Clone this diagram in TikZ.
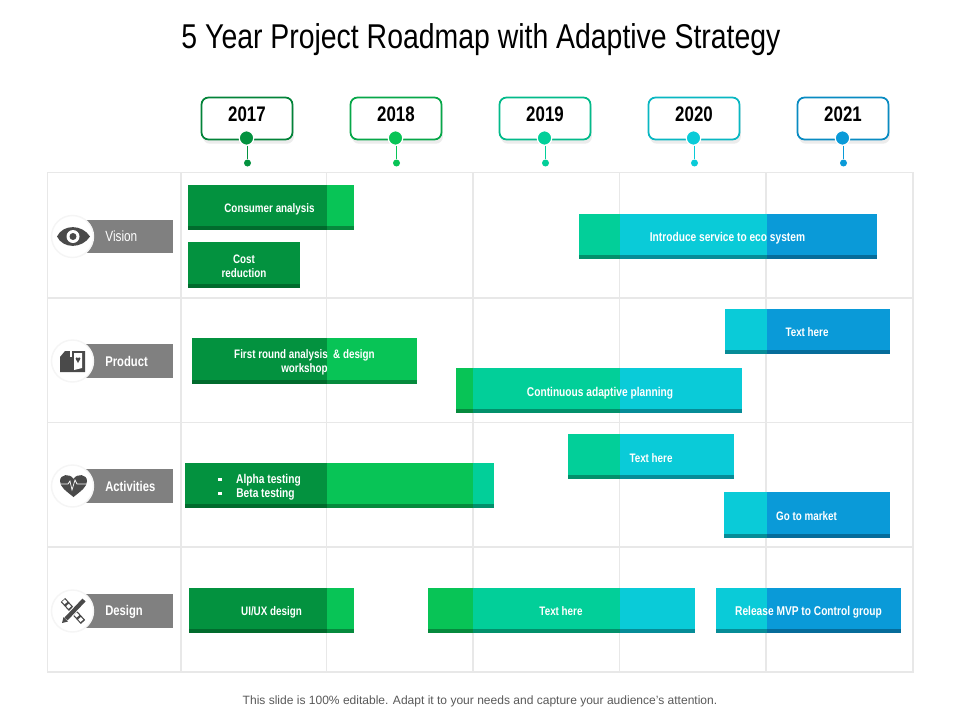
\documentclass[tikz,border=0pt]{standalone}
\usepackage{fontspec}
\setmainfont{Liberation Sans}
\newfontfamily\narrowfont[FakeStretch=0.8]{Liberation Sans}
\newfontfamily\titlefont[FakeStretch=0.825]{Liberation Sans}
\usetikzlibrary{positioning,shadows}

\definecolor{cA}{HTML}{03923F}
\definecolor{cB}{HTML}{08C456}
\definecolor{cC}{HTML}{02CF99}
\definecolor{cD}{HTML}{0ACBD8}
\definecolor{cE}{HTML}{0A9AD8}
\definecolor{dA}{HTML}{016B2D}
\definecolor{dB}{HTML}{068A3D}
\definecolor{dC}{HTML}{02906B}
\definecolor{dD}{HTML}{068C97}
\definecolor{dE}{HTML}{066C9A}
\definecolor{iconc}{HTML}{4A4A4A}
\definecolor{pillc}{HTML}{808080}
\definecolor{gridc}{HTML}{E8E8E8}

\tikzset{
  yearcard/.style={draw, line width=1pt, fill=white, rounded corners=4pt,
    minimum width=1.82cm, minimum height=0.84cm,
    drop shadow={opacity=0.15, shadow xshift=0.8pt, shadow yshift=-2.4pt}},
  yeartext/.style={font=\narrowfont\bfseries\fontsize{12}{13}\selectfont, text=black,
    text height=8pt, text depth=4.4pt},
  pindot/.style={circle, draw=white, line width=0.7pt, minimum size=0.29cm, inner sep=0pt},
  tipdot/.style={circle, minimum size=0.14cm, inner sep=0pt},
  pill/.style={fill=pillc, minimum width=1.76cm, minimum height=0.67cm, inner sep=0pt},
  pilltext/.style={font=\narrowfont\fontsize{8.4}{10}\selectfont, text=white, anchor=west, inner sep=0pt},
  pillbold/.style={pilltext, font=\narrowfont\bfseries\fontsize{8}{10}\selectfont},
  badge/.style={circle, fill=white, draw=black!4, line width=0.8pt, minimum size=0.84cm, inner sep=0pt},
  bartext/.style={font=\narrowfont\bfseries\fontsize{7}{8}\selectfont, text=white, align=center, inner sep=0pt},
  barwide/.style={bartext, font=\narrowfont\bfseries\fontsize{7.25}{8}\selectfont},
}

% one coloured piece of a bar: left, right, top, fill, strip
\newcommand{\barpiece}[5]{
  \fill[#4] (#1,#3) rectangle (#2,#3+45.5);
  \fill[#5] (#1,#3+41.5) rectangle (#2,#3+45.5);
}

\begin{document}
\begin{tikzpicture}[x=0.02cm, y=-0.02cm]
\useasboundingbox (0,0) rectangle (960,720);
\fill[white] (0,0) rectangle (960,720);

% Title
\node[font=\titlefont\fontsize{19.6}{22}\selectfont] (title) at (481,40) {5 Year Project Roadmap with Adaptive Strategy};

% Grid
\draw[gridc, line width=0.8pt] (47.5,172.5) rectangle (913,672);
\draw[gridc, line width=0.8pt] (47.5,298) -- (913,298);
\draw[gridc, line width=0.8pt] (47.5,422.5) -- (913,422.5);
\draw[gridc, line width=0.8pt] (47.5,547) -- (913,547);
\draw[gridc, line width=0.8pt] (181,172.5) -- (181,672);
\draw[gridc, line width=0.8pt] (326.5,172.5) -- (326.5,672);
\draw[gridc, line width=0.8pt] (473,172.5) -- (473,672);
\draw[gridc, line width=0.8pt] (619.5,172.5) -- (619.5,672);
\draw[gridc, line width=0.8pt] (766,172.5) -- (766,672);

% Year cards
\node[yearcard, yeartext, draw=cA!90!black] (y17) at (247,118.5) {2017};
\node[yearcard, yeartext, draw=cB!85!black] (y18) at (396,118.5) {2018};
\node[yearcard, yeartext, draw=cC!90!black] (y19) at (545,118.5) {2019};
\node[yearcard, yeartext, draw=cD!90!black] (y20) at (694,118.5) {2020};
\node[yearcard, yeartext, draw=cE!90!black] (y21) at (843,118.5) {2021};

% Pins on the cards
\node[pindot, fill=cA] (p17) at (246.5,138) {};
\node[pindot, fill=cB] (p18) at (395.5,138) {};
\node[pindot, fill=cC] (p19) at (544.5,138) {};
\node[pindot, fill=cD] (p20) at (693.5,138) {};
\node[pindot, fill=cE] (p21) at (842.5,138) {};

% Tips below the pins
\node[tipdot, fill=cA] (t17) at (247.5,163) {};
\node[tipdot, fill=cB] (t18) at (396.5,163) {};
\node[tipdot, fill=cC] (t19) at (545.5,163) {};
\node[tipdot, fill=cD] (t20) at (694.5,163) {};
\node[tipdot, fill=cE] (t21) at (843.5,163) {};

\draw[cA, line width=0.5pt] (t17) -- (t17 |- p17.south);
\draw[cB, line width=0.5pt] (t18) -- (t18 |- p18.south);
\draw[cC, line width=0.5pt] (t19) -- (t19 |- p19.south);
\draw[cD, line width=0.5pt] (t20) -- (t20 |- p20.south);
\draw[cE, line width=0.5pt] (t21) -- (t21 |- p21.south);

% Row labels
\node[pill] (pVision) at (129,236.5) {};
\node[pill] (pProduct) at (129,361) {};
\node[pill] (pActivities) at (129,486) {};
\node[pill] (pDesign) at (129,611) {};
\node[pilltext] (lVision) at (105,236.5) {Vision};
\node[pillbold] (lProduct) at (105,361.5) {Product};
\node[pillbold] (lActivities) at (105,486) {Activities};
\node[pillbold] (lDesign) at (105,612) {Design};
\node[badge] (bVision) at (72.5,236.5) {};
\node[badge] (bProduct) at (72.5,361) {};
\node[badge] (bActivities) at (72.5,486) {};
\node[badge] (bDesign) at (72.5,611) {};

% Eye icon
\fill[iconc] (57,236.5) .. controls (63,224) and (82,224) .. (90,236.5) .. controls (82,249) and (63,249) .. (57,236.5) -- cycle;
\fill[white] (73,236.5) circle (6.5);
\fill[iconc] (73,236.5) circle (3.5);

% Box icon
\fill[iconc] (60,372) -- (60,357) -- (65,351) -- (85,351) -- (85,372) -- cycle;
\fill[white] (70,350) rectangle (72,357);
\fill[white] (74,353) -- (82,353) -- (82,368) -- (74,370) -- cycle;
\fill[iconc] (78,363) -- (75.5,358.5) .. controls (76,356.5) and (78,357) .. (78,358.5) .. controls (78,357) and (80,356.5) .. (80.5,358.5) -- cycle;

% Heart icon
\fill[iconc] (73.5,497) .. controls (66,491) and (60,487) .. (60,481) .. controls (60,474) and (70,473) .. (73.5,479) .. controls (77,473) and (87,474) .. (87,481) .. controls (87,487) and (81,491) .. (73.5,497) -- cycle;
\draw[white, line width=0.4pt] (61,484) -- (68,484) -- (70,481) -- (72,490) -- (75,480) -- (77,484) -- (86,484);

% Ruler and pencil icon
\draw[iconc, line width=3.4pt] (63,600) -- (83,622);
\draw[white, line width=2pt, dash pattern=on 2pt off 1.4pt] (63.5,600.5) -- (82.5,621.5);
\draw[white, line width=3.6pt] (84,600) -- (64,621);
\draw[iconc, line width=2.4pt] (84,600) -- (66,619);
\fill[iconc] (62,623) -- (63.5,617) -- (68,621.5) -- cycle;

% Vision bars
\barpiece{188}{326.5}{184.5}{cA}{dA}
\barpiece{326.5}{354}{184.5}{cB}{dB}
\barpiece{188}{300}{242}{cA}{dA}
\barpiece{579}{620}{213.5}{cC}{dC}
\barpiece{620}{767}{213.5}{cD}{dD}
\barpiece{767}{877}{213.5}{cE}{dE}

% Product bars
\barpiece{725}{767}{308.5}{cD}{dD}
\barpiece{767}{890}{308.5}{cE}{dE}
\barpiece{192}{326.5}{338}{cA}{dA}
\barpiece{326.5}{417}{338}{cB}{dB}
\barpiece{456}{473}{367.5}{cB}{dB}
\barpiece{473}{620}{367.5}{cC}{dC}
\barpiece{620}{742}{367.5}{cD}{dD}

% Activities bars
\barpiece{568}{620}{433.5}{cC}{dC}
\barpiece{620}{734}{433.5}{cD}{dD}
\barpiece{185}{326.5}{462.5}{cA}{dA}
\barpiece{326.5}{473}{462.5}{cB}{dB}
\barpiece{473}{494}{462.5}{cC}{dC}
\barpiece{724}{767}{492}{cD}{dD}
\barpiece{767}{890}{492}{cE}{dE}

% Design bars
\barpiece{189}{326.5}{587.5}{cA}{dA}
\barpiece{326.5}{354}{587.5}{cB}{dB}
\barpiece{428}{473}{587.5}{cB}{dB}
\barpiece{473}{620}{587.5}{cC}{dC}
\barpiece{620}{695}{587.5}{cD}{dD}
\barpiece{716}{767}{587.5}{cD}{dD}
\barpiece{767}{901}{587.5}{cE}{dE}

% Bar texts
\node[bartext] (consumer) at (269.5,209) {Consumer analysis};
\node[bartext] (cost) at (244,266) {Cost\\reduction};
\node[barwide] (service) at (727.5,238) {Introduce service to eco system};
\node[bartext] (here1) at (807,332) {Text here};
\node[bartext] (round) at (304.5,362.5) {First round analysis \ \& design\\workshop};
\node[barwide] (planning) at (600,393) {Continuous adaptive planning};
\node[bartext] (here2) at (651,458) {Text here};
\node[barwide, align=left] (alpha) at (268.5,480) {Alpha testing};
\node[barwide, align=left] (beta) at (265.5,494) {Beta testing};
\node[bartext] (market) at (806.5,516) {Go to market};
\node[bartext] (uiux) at (271.5,612) {UI/UX design};
\node[bartext] (here3) at (561,611) {Text here};
\node[barwide] (release) at (808.5,612) {Release MVP to Control group};
\fill[white] (218,477.5) rectangle (221.5,481);
\fill[white] (218,491.5) rectangle (221.5,495);

% Footer
\node[font=\fontsize{6.85}{8}\selectfont, text=black!65] (footer) at (480,701) {This slide is 100\% editable. Adapt it to your needs and capture your audience's attention.};
\end{tikzpicture}
\end{document}
